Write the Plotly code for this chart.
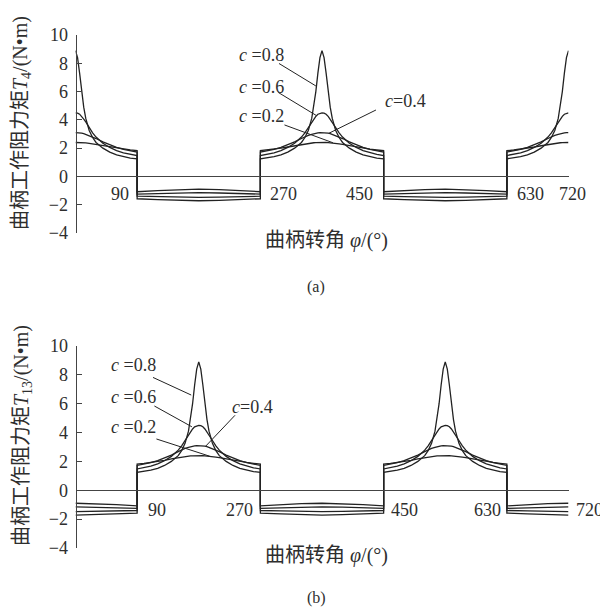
import plotly.graph_objects as go

# ---- data ----
C_LABELS = ["0.2", "0.4", "0.6", "0.8"]
# positive lobe: offset (deg) from the peak -> torque (N·m)
POS_OFFSETS = [0, 3, 6, 9, 12, 15, 20, 25, 30, 40, 50, 60, 70, 80, 90]
POS_C02 = [2.40, 2.40, 2.40, 2.39, 2.38, 2.37, 2.34, 2.30, 2.26, 2.17, 2.08, 2.00, 1.93, 1.87, 1.82]
POS_C04 = [3.10, 3.10, 3.08, 3.06, 3.03, 2.98, 2.90, 2.80, 2.68, 2.44, 2.23, 2.06, 1.92, 1.80, 1.72]
POS_C06 = [4.50, 4.48, 4.40, 4.25, 4.05, 3.85, 3.45, 3.08, 2.78, 2.35, 2.05, 1.83, 1.67, 1.56, 1.48]
POS_C08 = [8.90, 8.40, 7.30, 6.00, 4.90, 4.10, 3.25, 2.75, 2.40, 2.00, 1.72, 1.52, 1.40, 1.30, 1.25]
# negative segment: offset (deg) from the segment centre -> torque
NEG_OFFSETS = [0, 30, 60, 90]
NEG_C02 = [-0.90, -0.93, -1.00, -1.08]
NEG_C04 = [-1.15, -1.17, -1.20, -1.25]
NEG_C06 = [-1.48, -1.46, -1.43, -1.40]
NEG_C08 = [-1.72, -1.69, -1.64, -1.58]

POS = [POS_C02, POS_C04, POS_C06, POS_C08]
NEG = [NEG_C02, NEG_C04, NEG_C06, NEG_C08]

# segment layout: (kind, centre angle, start, end)
SEGMENTS_A = [("p", 0, 0, 90), ("n", 180, 90, 270), ("p", 360, 270, 450),
              ("n", 540, 450, 630), ("p", 720, 630, 720)]
SEGMENTS_B = [("n", 0, 0, 90), ("p", 180, 90, 270), ("n", 360, 270, 450),
              ("p", 540, 450, 630), ("n", 720, 630, 720)]

X_TICKS = [90, 270, 450, 630, 720]
Y_TICKS = [-4, -2, 0, 2, 4, 6, 8, 10]

LINE_COLOR = "#222222"
TEXT_COLOR = "#2e2e2e"
SERIF = "Liberation Serif, Noto Sans CJK SC, serif"


def build_curve(pos, neg, segments):
    xs, ys = [], []
    for kind, centre, start, end in segments:
        offs = POS_OFFSETS if kind == "p" else NEG_OFFSETS
        vals = pos if kind == "p" else neg
        full_x = [centre - o for o in reversed(offs)] + [centre + o for o in offs[1:]]
        full_y = list(reversed(vals)) + list(vals[1:])
        for x, y in zip(full_x, full_y):
            if start <= x <= end:
                xs.append(x)
                ys.append(y)
    return xs, ys


fig = go.Figure()
for i in range(4):
    xa, ya = build_curve(POS[i], NEG[i], SEGMENTS_A)
    fig.add_trace(go.Scatter(x=xa, y=ya, mode="lines", xaxis="x", yaxis="y",
                             line=dict(color=LINE_COLOR, width=1.3), showlegend=False))
    xb, yb = build_curve(POS[i], NEG[i], SEGMENTS_B)
    fig.add_trace(go.Scatter(x=xb, y=yb, mode="lines", xaxis="x2", yaxis="y2",
                             line=dict(color=LINE_COLOR, width=1.3), showlegend=False))

# page has an 8px body margin: figure pixel = screen pixel - 8
OFF = 8
W = 600
H = 600


def fx(p):
    return (p - OFF) / W


def fy(p):
    return 1 - (p - OFF) / H


XDOM = [fx(75.5), fx(568.5)]
YDOM_A = [fy(233), fy(35)]
YDOM_B = [fy(548), fy(346)]


def zero_pos(dom):
    return dom[0] + (0 - (-4)) / 14 * (dom[1] - dom[0])


yax = dict(range=[-4, 10], tickvals=Y_TICKS, ticks="inside", ticklen=5, tickwidth=1,
           tickcolor="#444", showline=True, linecolor="#444", linewidth=1,
           showgrid=False, zeroline=False, ticklabelstandoff=4, automargin=False,
           tickfont=dict(family=SERIF, size=18, color=TEXT_COLOR))
xax = dict(range=[0, 720], domain=XDOM, tickvals=[720], ticks="inside", ticklen=8,
           tickcolor="#444", showticklabels=False, showline=True, linecolor="#444",
           linewidth=1, showgrid=False, zeroline=False, anchor="free", automargin=False)

fig.update_layout(
    width=W, height=H, margin=dict(l=0, r=0, t=0, b=0, autoexpand=False),
    paper_bgcolor="white", plot_bgcolor="rgba(0,0,0,0)",
    xaxis=dict(xax, position=zero_pos(YDOM_A)),
    yaxis=dict(yax, domain=YDOM_A, anchor="free", position=XDOM[0]),
    xaxis2=dict(xax, position=zero_pos(YDOM_B)),
    yaxis2=dict(yax, domain=YDOM_B, anchor="free", position=XDOM[0]),
)

ann = []
font = dict(family=SERIF, size=18, color=TEXT_COLOR)

# x tick labels placed beside the steps
XLAB_A = [("90", "right", -6), ("270", "left", 8), ("450", "right", -9),
          ("630", "left", 8), ("720", "center", 4)]
XLAB_B = [("90", "left", 9), ("270", "right", -5), ("450", "left", 5),
          ("630", "right", -4), ("720", "left", 5)]
for (t, anc, sh), xv in zip(XLAB_A, X_TICKS):
    ann.append(dict(x=xv, y=-1.25, xref="x", yref="y", text=t, showarrow=False,
                    xanchor=anc, yanchor="middle", xshift=sh, font=font))
for (t, anc, sh), xv in zip(XLAB_B, X_TICKS):
    ann.append(dict(x=xv, y=-1.35, xref="x2", yref="y2", text=t, showarrow=False,
                    xanchor=anc, yanchor="middle", xshift=sh, font=font))

# curve labels with leader lines
LAB_A = [("<i>c</i> =0.8", 271, 8.6, 295, 8.05, 351, 6.4),
         ("<i>c</i> =0.6", 271, 6.35, 294, 6.0, 352, 4.3),
         ("<i>c</i> =0.2", 271, 4.24, 303, 3.68, 376, 2.38),
         ("<i>c</i>=0.4", 482, 5.3, 441, 4.75, 370, 3.05)]
LAB_B = [("<i>c</i> =0.8", 84, 8.68, 111, 7.87, 169, 6.6),
         ("<i>c</i> =0.6", 84, 6.46, 113, 5.9, 170, 4.4),
         ("<i>c</i> =0.2", 84, 4.38, 116, 3.59, 196, 2.36),
         ("<i>c</i>=0.4", 258, 5.76, 235, 5.3, 190, 3.05)]
for labs, xr, yr in [(LAB_A, "x", "y"), (LAB_B, "x2", "y2")]:
    for t, tx, ty, ax, ay, hx, hy in labs:
        ann.append(dict(x=tx, y=ty, xref=xr, yref=yr, text=t, showarrow=False,
                        xanchor="center", yanchor="middle", font=font))
        ann.append(dict(x=hx, y=hy, xref=xr, yref=yr, ax=ax, ay=ay, axref=xr, ayref=yr,
                        text="", showarrow=True, arrowhead=0, arrowwidth=1,
                        arrowcolor=LINE_COLOR, standoff=0, startstandoff=0))

# axis titles and captions
title_font = dict(family=SERIF, size=20, color=TEXT_COLOR)
ann.append(dict(x=fx(22), y=fy(123), xref="paper", yref="paper", textangle=-90,
                text="曲柄工作阻力矩<i>T</i><sub>4</sub>/(N•m)", showarrow=False,
                xanchor="center", yanchor="middle", font=title_font))
ann.append(dict(x=fx(22), y=fy(436), xref="paper", yref="paper", textangle=-90,
                text="曲柄工作阻力矩<i>T</i><sub>13</sub>/(N•m)", showarrow=False,
                xanchor="center", yanchor="middle", font=title_font))
for yy in [240, 555]:
    ann.append(dict(x=fx(326), y=fy(yy), xref="paper", yref="paper",
                    text="曲柄转角 <i>φ</i>/(°)", showarrow=False,
                    xanchor="center", yanchor="middle", font=title_font))
for t, yy in [("(a)", 287), ("(b)", 598)]:
    ann.append(dict(x=fx(316), y=fy(yy), xref="paper", yref="paper", text=t,
                    showarrow=False, xanchor="center", yanchor="middle",
                    font=dict(family=SERIF, size=16, color=TEXT_COLOR)))

fig.update_layout(annotations=ann)
fig.write_html("out.html")
